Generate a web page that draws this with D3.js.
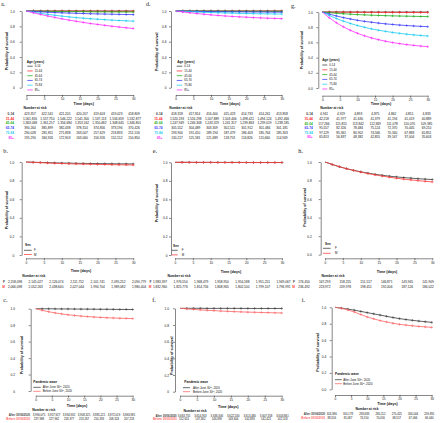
<!DOCTYPE html>
<html><head><meta charset="utf-8">
<script src="https://cdn.jsdelivr.net/npm/d3@7"></script>
<style>html,body{margin:0;padding:0;background:#fff}svg{display:block}</style>
</head><body><svg id="chart" width="440" height="423"></svg>
<script>
// ---------------- DATA ----------------
const days = [0,2,4,6,8,10,12,14,16,18,20,22,24,26,28,30];
const xTicks = [0,5,10,15,20,25,30];
const yTicks = [0,0.2,0.4,0.6,0.8,1];
const riskDays = [0,5,10,15,20,25,30];

const ageGroups = ["0-14","15-44","45-64","65-74","75-84","85+"];
const sexGroups = ["F","M"];
const waveLegend = ["After June 30","Before June 30"];
const waveRowLabels = ["After 30/06/2020","Before 30/06/2020"];

const ageColors = ["#3a3a3a","#ff2a2a","#1fae1f","#3b3bff","#1ccbf2","#ff2cff"];
const sexColors = ["#3a3a3a","#ff3b3b"];
const waveColors = ["#3a3a3a","#ff6464"];

// survival curves (probability), by group, at `days`
const survA = [
 [1,1,1,1,1,1,1,1,1,1,1,0.999,0.999,0.999,0.999,0.999],
 [1,1,0.999,0.999,0.999,0.999,0.999,0.999,0.998,0.998,0.998,0.998,0.998,0.998,0.998,0.998],
 [1,0.998,0.997,0.996,0.994,0.993,0.992,0.992,0.991,0.990,0.989,0.989,0.988,0.988,0.987,0.987],
 [1,0.994,0.989,0.984,0.980,0.976,0.973,0.970,0.967,0.964,0.962,0.960,0.958,0.956,0.954,0.953],
 [1,0.984,0.969,0.956,0.944,0.933,0.923,0.914,0.906,0.899,0.893,0.887,0.881,0.876,0.872,0.868],
 [1,0.977,0.955,0.935,0.916,0.898,0.881,0.866,0.851,0.837,0.825,0.813,0.801,0.791,0.781,0.772]
];
const survD = [
 [1,1,1,1,1,1,1,1,1,1,1,1,1,1,1,1],
 [1,1,1,1,1,0.999,0.999,0.999,0.999,0.999,0.999,0.999,0.999,0.999,0.999,0.999],
 [1,0.999,0.999,0.998,0.998,0.997,0.997,0.997,0.996,0.996,0.996,0.996,0.996,0.995,0.995,0.995],
 [1,0.998,0.996,0.995,0.994,0.992,0.991,0.990,0.989,0.989,0.988,0.987,0.987,0.986,0.985,0.985],
 [1,0.995,0.991,0.987,0.983,0.980,0.977,0.974,0.972,0.969,0.967,0.966,0.964,0.963,0.961,0.960],
 [1,0.988,0.977,0.967,0.958,0.949,0.942,0.935,0.929,0.924,0.919,0.914,0.910,0.906,0.903,0.900]
];
const survG = [
 [1,1,1,1,1,1,0.999,0.999,0.999,0.999,0.999,0.999,0.999,0.999,0.999,0.999],
 [1,0.999,0.998,0.998,0.997,0.997,0.996,0.996,0.995,0.995,0.995,0.995,0.994,0.994,0.994,0.994],
 [1,0.991,0.984,0.977,0.971,0.966,0.962,0.958,0.955,0.952,0.949,0.947,0.945,0.943,0.941,0.940],
 [1,0.972,0.948,0.926,0.908,0.891,0.877,0.865,0.854,0.844,0.836,0.828,0.822,0.816,0.811,0.807],
 [1,0.954,0.914,0.880,0.849,0.822,0.799,0.778,0.760,0.745,0.731,0.719,0.708,0.699,0.691,0.684],
 [1,0.924,0.859,0.805,0.759,0.720,0.687,0.659,0.636,0.615,0.598,0.584,0.571,0.561,0.552,0.544]
];
const survB = [
 [1,0.997,0.995,0.993,0.991,0.989,0.988,0.986,0.985,0.984,0.983,0.982,0.981,0.980,0.980,0.979],
 [1,0.996,0.993,0.989,0.986,0.984,0.981,0.979,0.977,0.976,0.974,0.973,0.971,0.970,0.969,0.968]
];
const survE = [
 [1,1,1,0.999,0.999,0.999,0.999,0.999,0.999,0.999,0.998,0.998,0.998,0.998,0.998,0.998],
 [1,1,0.999,0.999,0.999,0.999,0.998,0.998,0.998,0.998,0.998,0.997,0.997,0.997,0.997,0.997]
];
const survH = [
 [1,0.973,0.949,0.928,0.910,0.894,0.880,0.867,0.857,0.847,0.839,0.832,0.826,0.820,0.815,0.811],
 [1,0.974,0.950,0.928,0.909,0.891,0.875,0.861,0.848,0.836,0.825,0.815,0.807,0.799,0.792,0.785]
];
const survC = [
 [1,0.999,0.999,0.998,0.997,0.997,0.996,0.995,0.995,0.994,0.993,0.993,0.992,0.991,0.991,0.990],
 [1,0.980,0.963,0.949,0.937,0.926,0.918,0.910,0.904,0.899,0.894,0.890,0.887,0.884,0.882,0.880]
];
const survF = [
 [1,1,1,1,0.999,0.999,0.999,0.999,0.999,0.999,0.998,0.998,0.998,0.998,0.998,0.998],
 [1,0.993,0.987,0.981,0.976,0.972,0.967,0.964,0.960,0.957,0.954,0.952,0.950,0.948,0.946,0.944]
];
const survI = [
 [1,0.990,0.978,0.965,0.950,0.935,0.920,0.905,0.890,0.875,0.862,0.851,0.841,0.832,0.824,0.816],
 [1,0.987,0.968,0.943,0.912,0.882,0.859,0.838,0.821,0.805,0.792,0.783,0.775,0.767,0.761,0.755]
];

// number at risk tables, at riskDays
const riskA = [
 [423357,422541,421205,420207,419603,419023,418809],
 [1561816,1557750,1546222,1541300,1537113,1534659,1532877],
 [1363068,1361257,1356684,1353162,1350482,1348645,1346801],
 [390264,385899,382438,378314,374856,373196,370426],
 [290028,281811,271838,263007,257629,253833,251516],
 [195290,184926,172903,163060,156926,152152,150850]
];
const riskD = [
 [418318,417814,416400,415423,414733,414261,413858],
 [1520193,1516298,1507889,1503406,1498421,1494124,1492466],
 [1247949,1246308,1243329,1241317,1239863,1239019,1238185],
 [305552,304489,303309,302511,301912,301484,301181],
 [193900,191410,189194,187479,186403,185764,185303],
 [130217,125581,121689,118753,116826,115660,114949]
];
const riskG = [
 [4941,4929,4893,4875,4862,4851,4833],
 [42218,41977,41630,41379,41194,41019,40889],
 [117266,115815,113842,112369,111078,110070,109385],
 [95557,82326,78484,75124,72370,70445,69210],
 [97129,85361,80902,74566,70340,67883,65851],
 [65813,56837,48382,42855,39167,37004,35603]
];
const riskB = [
 [2158098,2145027,2126074,2111752,2101741,2095252,2090779],
 [2066098,2052263,2038640,2027044,1994704,1989082,1980404]
];
const riskE = [
 [1983397,1976550,1968479,1958950,1954188,1951251,1949067],
 [1832960,1825776,1814756,1808965,1802100,1799107,1796991]
];
const riskH = [
 [176450,167293,158255,151517,146871,143945,141909],
 [236492,223972,209978,198451,192006,187126,184022]
];
const riskC = [
 [3990075,3957927,3934932,3908325,3885221,3872019,3863981],
 [237988,227962,218377,213267,210333,208324,207218]
];
const riskF = [
 [3663735,3654953,3636306,3622530,3613480,3607358,3603861],
 [152651,147362,146939,143604,142839,142421,142118]
];
const riskI = [
 [324386,310178,293683,280112,270425,264004,259891],
 [88556,81087,74550,70056,68557,67066,66040]
];

// ---------------- LAYOUT ----------------
const FONT = "'Liberation Sans', Arial, Helvetica, sans-serif";
const SERIF = "'Liberation Serif', 'Times New Roman', serif";

const ageSet = {groups: ageGroups, colors: ageColors, rowLabels: ageGroups, legTitle: "Age (years)", sup: false};
const sexSet = {groups: sexGroups, colors: sexColors, rowLabels: sexGroups, legTitle: "Sex", sup: false};
const waveSet = {groups: waveLegend, colors: waveColors, rowLabels: waveRowLabels, legTitle: "Pandemic wave", sup: true};

const panels = [
 Object.assign({label:"a.", lx:1, ly:3.5, ax:21.7, xL:26.3, xR:133.3, yT:11, yB:87.7, axY:95, pad:5, zero:"0",
  ytx:6.7, yty:51, tX:83.7, tY:104, nrX:35, nrY:108.3, rowY0:113.7, rowStep:4.8, rlX:14, tx0:30, tx30:134, tfs:3.2,
  legX:26.7, legY:61.7, legY0:66.2, legStep:4.75, legL0:27.3, legL1:32.7, legTX:34.7, surv:survA, risk:riskA}, ageSet),
 Object.assign({label:"d.", lx:146, ly:3.5, ax:171, xL:175.7, xR:281.7, yT:11, yB:87.7, axY:95, pad:2.6, zero:"0",
  ytx:156.7, yty:51.7, tX:230, tY:104, nrX:180.8, nrY:108.3, rowY0:113.7, rowStep:4.8, rlX:162.5, tx0:177, tx30:282, tfs:3.2,
  legX:177.3, legY:61.7, legY0:66.2, legStep:4.75, legL0:176.7, legL1:182.3, legTX:184.3, surv:survD, risk:riskD}, ageSet),
 Object.assign({label:"g.", lx:291, ly:5, ax:318.3, xL:322.3, xR:427.7, yT:12, yB:88, axY:95.7, pad:3.6, zero:"0.0",
  ytx:302.3, yty:50, tX:381, tY:104.3, nrX:331.7, nrY:108.3, rowY0:114.3, rowStep:4.6, rlX:312.7, tx0:324, tx30:426.5, tfs:3.2,
  legX:322.3, legY:60, legY0:65, legStep:4.8, legL0:322.3, legL1:327.3, legTX:329.3, surv:survG, risk:riskG}, ageSet),
 Object.assign({label:"b.", lx:3.3, ly:150, ax:21.7, xL:26, xR:133.3, yT:162, yB:255, axY:258.3, pad:5.4, zero:"0",
  ytx:7.3, yty:210, tX:81, tY:271, nrX:33.8, nrY:276, rowY0:282.3, rowStep:4.4, rlX:5, tx0:15, tx30:139, tfs:3.2,
  legX:25, legY:245, legY0:250.3, legStep:4.2, legL0:24, legL1:31.7, legTX:34, surv:survB, risk:riskB}, sexSet),
 Object.assign({label:"e.", lx:152.7, ly:150.7, ax:171, xL:175, xR:282, yT:162.3, yB:255, axY:258.3, pad:1.6, zero:"0",
  ytx:157.3, yty:203, tX:231, tY:272, nrX:179, nrY:276, rowY0:282.3, rowStep:4.4, rlX:151.5, tx0:160, tx30:283.5, tfs:3.2,
  legX:173, legY:245.7, legY0:250.3, legStep:4.6, legL0:171.7, legL1:177.7, legTX:181.7, surv:survE, risk:riskE}, sexSet),
 Object.assign({label:"h.", lx:298.3, ly:150.7, ax:320.7, xL:325, xR:432.3, yT:162, yB:254.7, axY:258.3, pad:7, zero:"0.0",
  ytx:305, yty:207.5, tX:387, tY:271.7, nrX:333, nrY:276, rowY0:281.7, rowStep:5, rlX:295, tx0:304, tx30:428, tfs:3.2,
  legX:325, legY:244.3, legY0:248.3, legStep:5, legL0:323, legL1:330.7, legTX:335, surv:survH, risk:riskH}, sexSet),
 Object.assign({label:"c.", lx:3.3, ly:299.7, ax:30.7, xL:35.7, xR:132.7, yT:308.7, yB:391, axY:395.7, pad:13.7, zero:"0",
  ytx:21.7, yty:355, tX:77, tY:406.3, nrX:43.7, nrY:410, rowY0:415.3, rowStep:3.4, rlX:30, tx0:39, tx30:129, tfs:2.8,
  legX:33.3, legY:382, legY0:387.3, legStep:4, legL0:33.3, legL1:40.7, legTX:42.7, surv:survC, risk:riskC}, waveSet),
 Object.assign({label:"f.", lx:152.3, ly:299, ax:175, xL:180, xR:281.7, yT:308.3, yB:391.7, axY:395.7, pad:4, zero:"0",
  ytx:171.7, yty:355.8, tX:228.3, tY:406.7, nrX:195, nrY:410.7, rowY0:415.7, rowStep:3.3, rlX:176.7, tx0:184, tx30:282.5, tfs:2.8,
  legX:184.3, legY:382.3, legY0:387.7, legStep:4, legL0:183, legL1:190, legTX:193, surv:survF, risk:riskF}, waveSet),
 Object.assign({label:"i.", lx:301.7, ly:299, ax:331.7, xL:335, xR:431.7, yT:307.3, yB:389.3, axY:395, pad:3.4, zero:"0.0",
  ytx:318.3, yty:352.5, tX:387.5, tY:403.7, nrX:367, nrY:409, rowY0:414, rowStep:3.7, rlX:325, tx0:331.7, tx30:429.3, tfs:2.8,
  legX:335, legY:374.3, legY0:379.7, legStep:4, legL0:335, legL1:341.7, legTX:343.3, surv:survI, risk:riskI}, waveSet)
];

// ---------------- DRAW ----------------
const svg = d3.select("#chart");
svg.append("rect").attr("width",440).attr("height",423).attr("fill","#fff");
const fmt = d3.format(",");

function drawPanel(p){
  const g = svg.append("g").attr("font-family", FONT);
  const x = d3.scaleLinear().domain([0,30]).range([p.xL, p.xR]);
  const y = d3.scaleLinear().domain([0,1]).range([p.yB, p.yT]);

  // panel label
  g.append("text").attr("x", p.lx).attr("y", p.ly).attr("dominant-baseline","central")
    .attr("font-family", SERIF).attr("font-size", 6.2).attr("fill","#222").text(p.label);

  // y axis
  const ya = g.append("g").attr("transform", `translate(${p.ax},0)`)
    .call(d3.axisLeft(y).tickValues(yTicks).tickSize(2).tickSizeOuter(0).tickPadding(p.pad)
      .tickFormat(v => v === 0 ? p.zero : d3.format(".1f")(v)));
  // x axis
  const xa = g.append("g").attr("transform", `translate(0,${p.axY})`)
    .call(d3.axisBottom(x).tickValues(xTicks).tickSize(2).tickSizeOuter(0).tickPadding(1.2));
  [ya, xa].forEach(a => {
    a.select(".domain").attr("stroke","#222").attr("stroke-width",0.55);
    a.selectAll(".tick line").attr("stroke","#222").attr("stroke-width",0.55);
    a.selectAll(".tick text").attr("font-size",3.2).attr("font-family",FONT).attr("fill","#111");
  });

  // axis titles
  g.append("text").attr("transform", `translate(${p.ytx},${p.yty}) rotate(-90)`)
    .attr("text-anchor","middle").attr("dominant-baseline","central")
    .attr("font-weight","bold").attr("font-size",3.7).attr("fill","#111").text("Probability of survival");
  g.append("text").attr("x", p.tX).attr("y", p.tY).attr("text-anchor","middle").attr("dominant-baseline","central")
    .attr("font-weight","bold").attr("font-size",3.7).attr("fill","#111").text("Time (days)");

  // curves
  const line = d3.line().x((d,i) => x(days[i])).y(d => y(d)).curve(d3.curveMonotoneX);
  p.surv.forEach((s, k) => {
    g.append("path").attr("d", line(s)).attr("fill","none")
      .attr("stroke", p.colors[k]).attr("stroke-width", 0.8);
    g.append("g").selectAll("path").data(s.slice(1)).join("path")
      .attr("transform", (d,i) => `translate(${x(days[i+1])},${y(d)})`)
      .attr("d","M-1.3,0H1.3M0,-1.3V1.3")
      .attr("stroke", p.colors[k]).attr("stroke-width", 0.55).attr("fill","none");
  });

  // legend
  g.append("text").attr("x", p.legX).attr("y", p.legY).attr("dominant-baseline","central")
    .attr("font-weight","bold").attr("font-size",3.2).attr("fill","#111").text(p.legTitle);
  p.groups.forEach((name, k) => {
    const yy = p.legY0 + k * p.legStep;
    g.append("line").attr("x1", p.legL0).attr("x2", p.legL1).attr("y1", yy).attr("y2", yy)
      .attr("stroke", p.colors[k]).attr("stroke-width", 0.75);
    const t = g.append("text").attr("x", p.legTX).attr("y", yy).attr("dominant-baseline","central")
      .attr("font-size",2.9).attr("fill","#111");
    if (p.sup) {
      t.append("tspan").text(name);
      t.append("tspan").attr("font-size",1.9).attr("dy",-0.9).text("th");
      t.append("tspan").attr("dy",0.9).text(", 2020");
    } else {
      t.text(name);
    }
  });

  // number at risk table
  g.append("text").attr("x", p.nrX).attr("y", p.nrY).attr("text-anchor","middle").attr("dominant-baseline","central")
    .attr("font-weight","bold").attr("font-size",3.3).attr("fill","#111").text("Number at risk");
  const tx = d3.scaleLinear().domain([0,30]).range([p.tx0, p.tx30]);
  p.risk.forEach((row, k) => {
    const yy = p.rowY0 + k * p.rowStep;
    g.append("text").attr("x", p.rlX).attr("y", yy).attr("text-anchor","end").attr("dominant-baseline","central")
      .attr("font-weight","bold").attr("font-size", p.tfs).attr("fill", p.colors[k]).text(p.rowLabels[k]);
    g.append("g").selectAll("text").data(row).join("text")
      .attr("x", (d,j) => tx(riskDays[j])).attr("y", yy)
      .attr("text-anchor","middle").attr("dominant-baseline","central")
      .attr("font-size", p.tfs).attr("fill","#111").text(d => fmt(d));
  });
}

panels.forEach(drawPanel);
</script></body></html>
